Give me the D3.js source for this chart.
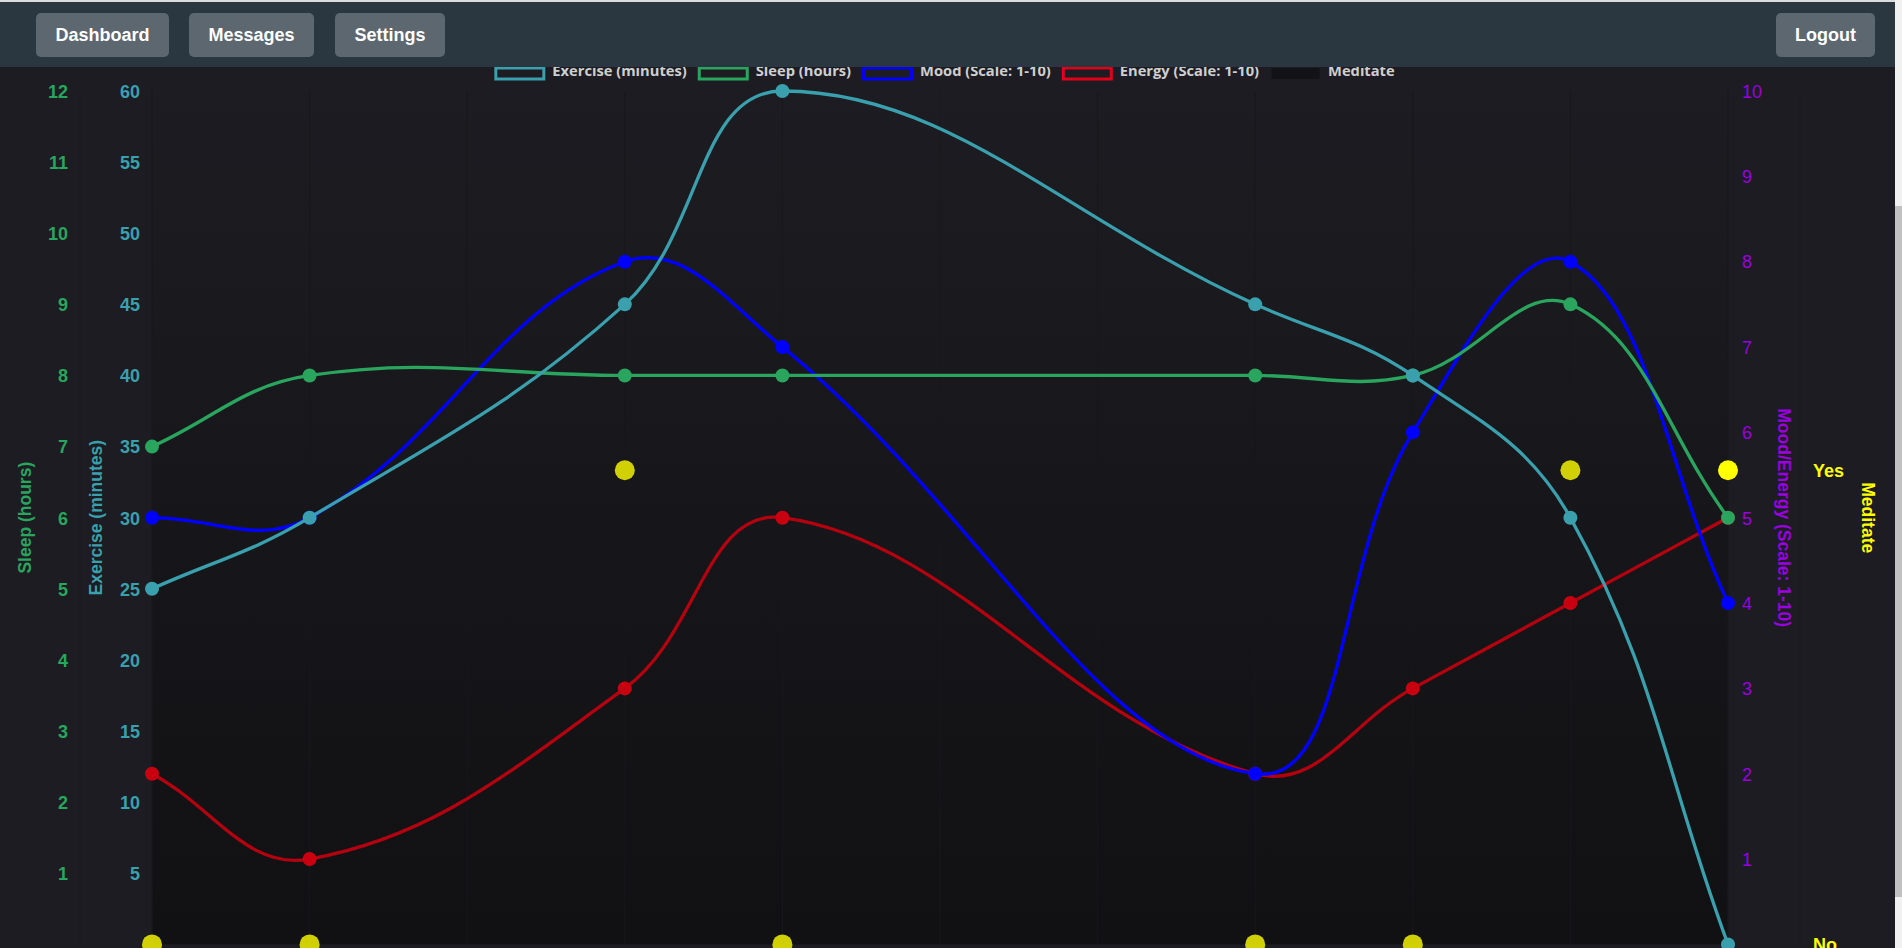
<!DOCTYPE html>
<html><head><meta charset="utf-8">
<script src="https://cdn.jsdelivr.net/npm/d3@7"></script>
<style>
html,body{margin:0;padding:0;overflow:hidden;background:#1c1c22;width:1902px;height:948px;}
svg{position:absolute;left:0;top:0;}
#topline{position:absolute;left:0;top:0;width:1902px;height:2px;background:#dcdcdc;}
#nav{position:absolute;left:0;top:2px;width:1895px;height:65px;background:#2b3740;}
.btn{position:absolute;top:11px;height:44px;background:#5c6770;border-radius:5px;color:#fff;
  font:bold 18px "Liberation Sans",Arial,sans-serif;display:flex;align-items:center;justify-content:center;}
#sbtrack{position:absolute;left:1895px;top:0;width:7px;height:948px;background:#f1f1f1;}
#sbthumb{position:absolute;left:1895px;top:206px;width:7px;height:691px;background:#c1c1c1;}
</style></head><body>
<svg id="chart" width="1895" height="948"></svg>
<div id="topline"></div>
<div id="nav">
  <div class="btn" style="left:36px;width:133px;">Dashboard</div>
  <div class="btn" style="left:189px;width:125px;">Messages</div>
  <div class="btn" style="left:335px;width:110px;">Settings</div>
  <div class="btn" style="left:1776px;width:99px;">Logout</div>
</div>
<div id="sbtrack"></div><div id="sbthumb"></div>
<script>
// ---------- data ----------
const dates    = ["2024-05-01","2024-05-02","2024-05-04","2024-05-05","2024-05-08","2024-05-09","2024-05-10","2024-05-11"];
const exercise = [25, 30, 45, 60, 45, 40, 30, 0];
const sleep    = [7, 8, 8, 8, 8, 8, 9, 6];
const mood     = [5, 5, 8, 7, 2, 6, 8, 4];
const energy   = [2, 1, 3, 5, 2, 3, 4, 5];
const meditate = [0, 0, 1, 0, 0, 0, 1, 1];
const sleepTicks    = [1,2,3,4,5,6,7,8,9,10,11,12];
const exerciseTicks = [5,10,15,20,25,30,35,40,45,50,55,60];
const moodTicks     = [1,2,3,4,5,6,7,8,9,10];
const meditateTickValues = [0, 1];
const meditateTickLabels = ["No", "Yes"];
const legendLabels = ["Exercise (minutes)","Sleep (hours)","Mood (Scale: 1-10)","Energy (Scale: 1-10)","Meditate"];
const axisTitles = {sleep:"Sleep (hours)", exercise:"Exercise (minutes)", mood:"Mood/Energy (Scale: 1-10)", meditate:"Meditate"};

// ---------- style ----------
const C = {teal:"#3aa0ad", green:"#2aa55e", blue:"#0000ff", red:"#b5000f", redPt:"#c8000f", redBox:"#e0001a",
           purple:"#9a00e0", yellow:"#ffff00", grid:"#18181c", legendText:"#cfcfcf"};
const area = {left:152, right:1728, top:91, bottom:944.4};
const parse = d3.timeParse("%Y-%m-%d");
const xDates = dates.map(parse);

const svg = d3.select("#chart");
const defs = svg.append("defs");
const grad = defs.append("linearGradient").attr("id","areaGrad").attr("x1",0).attr("x2",0).attr("y1",0).attr("y2",1);
grad.append("stop").attr("offset","0%").attr("stop-color","#1c1c22");
grad.append("stop").attr("offset","100%").attr("stop-color","#111113");
defs.append("clipPath").attr("id","clipArea").append("rect")
  .attr("x",area.left-12).attr("y",area.top-12).attr("width",area.right-area.left+24).attr("height",area.bottom-area.top+24);

// ---------- scales ----------
const x = d3.scaleTime().domain(d3.extent(xDates)).range([area.left, area.right]);
const ySleep = d3.scaleLinear().domain([0,12]).range([area.bottom, area.top]);
const yEx = d3.scaleLinear().domain([0,60]).range([area.bottom, area.top]);
const yMood = d3.scaleLinear().domain([0,10]).range([area.bottom, area.top]);
const yMed = d3.scaleLinear().domain([0,1.8]).range([area.bottom, area.top]);

// chart area background
svg.append("rect").attr("x",area.left).attr("y",area.top).attr("width",area.right-area.left)
  .attr("height",area.bottom-area.top).attr("fill","url(#areaGrad)");

// vertical grid (daily)
const days = d3.timeDay.range(xDates[0], d3.timeDay.offset(xDates[xDates.length-1],1));
svg.append("g").selectAll("line").data(days).join("line")
  .attr("x1",d=>x(d)).attr("x2",d=>x(d)).attr("y1",area.top).attr("y2",area.bottom)
  .attr("stroke",C.grid).attr("stroke-width",1);
// axis border lines
const borders = [80, area.left, area.right, 1800];
svg.append("g").selectAll("line").data(borders).join("line")
  .attr("x1",d=>d).attr("x2",d=>d).attr("y1",area.top).attr("y2",area.bottom)
  .attr("stroke",C.grid).attr("stroke-width",1);

// ---------- axes ----------
function styleAxis(g, color, weight, anchor){
  g.select(".domain").remove();
  g.selectAll(".tick line").remove();
  g.selectAll("text").attr("fill",color).attr("font-family","'Liberation Sans',Arial,sans-serif")
    .attr("font-size",18).attr("font-weight",weight).attr("text-anchor",anchor).attr("dy","0.35em");
}
svg.append("g").attr("transform","translate(80,0)")
  .call(d3.axisLeft(ySleep).tickValues(sleepTicks).tickSize(0).tickPadding(12))
  .call(g=>styleAxis(g,C.green,"bold","end"));
svg.append("g").attr("transform",`translate(${area.left},0)`)
  .call(d3.axisLeft(yEx).tickValues(exerciseTicks).tickSize(0).tickPadding(12))
  .call(g=>styleAxis(g,C.teal,"bold","end"));
svg.append("g").attr("transform",`translate(${area.right},0)`)
  .call(d3.axisRight(yMood).tickValues(moodTicks).tickSize(0).tickPadding(14))
  .call(g=>styleAxis(g,C.purple,"normal","start"));
svg.append("g").attr("transform","translate(1800,0)")
  .call(d3.axisRight(yMed).tickValues(meditateTickValues).tickFormat((d,i)=>meditateTickLabels[i]).tickSize(0).tickPadding(13))
  .call(g=>styleAxis(g,C.yellow,"bold","start"));

// axis titles
const midY = (area.top+area.bottom)/2;
function title(txt, cx, rot, color){
  svg.append("text").text(txt).attr("transform",`translate(${cx},${midY}) rotate(${rot})`)
    .attr("text-anchor","middle").attr("dy","0.35em").attr("fill",color)
    .attr("font-family","'Liberation Sans',Arial,sans-serif").attr("font-size",17.5).attr("font-weight","bold");
}
title(axisTitles.sleep, 24.5, -90, C.green);
title(axisTitles.exercise, 95.5, -90, C.teal);
title(axisTitles.mood, 1784, 90, C.purple);
title(axisTitles.meditate, 1868, 90, C.yellow);

// ---------- Chart.js style spline ----------
function splinePath(pts, t){
  const n = pts.length;
  const cap = (v,a,b)=>Math.max(Math.min(v,b),a);
  const cps = pts.map((p,i)=>{
    const prev = i>0 ? pts[i-1] : p, next = i<n-1 ? pts[i+1] : p;
    const d01 = Math.hypot(p[0]-prev[0], p[1]-prev[1]);
    const d12 = Math.hypot(next[0]-p[0], next[1]-p[1]);
    let s01 = d01/(d01+d12), s12 = d12/(d01+d12);
    if (isNaN(s01)) s01 = 0; if (isNaN(s12)) s12 = 0;
    const fa = t*s01, fb = t*s12;
    return {
      c1:[cap(p[0]-fa*(next[0]-prev[0]),area.left,area.right), cap(p[1]-fa*(next[1]-prev[1]),area.top,area.bottom)],
      c2:[cap(p[0]+fb*(next[0]-prev[0]),area.left,area.right), cap(p[1]+fb*(next[1]-prev[1]),area.top,area.bottom)]
    };
  });
  const path = d3.path();
  path.moveTo(pts[0][0], pts[0][1]);
  for (let i=1;i<n;i++){
    path.bezierCurveTo(cps[i-1].c2[0],cps[i-1].c2[1],cps[i].c1[0],cps[i].c1[1],pts[i][0],pts[i][1]);
  }
  return path.toString();
}

const plot = svg.append("g").attr("clip-path","url(#clipArea)");
// meditate points (drawn first, below)
plot.append("g").selectAll("circle").data(meditate).join("circle")
  .attr("cx",(d,i)=>x(xDates[i])).attr("cy",d=>yMed(d)).attr("r",10)
  .attr("fill",(d,i)=> i===meditate.length-1 ? C.yellow : "rgba(255,255,0,0.8)");

const series = [
  {vals:energy, y:yMood, color:C.red, pt:C.redPt},
  {vals:mood, y:yMood, color:C.blue, pt:C.blue},
  {vals:sleep, y:ySleep, color:C.green, pt:C.green},
  {vals:exercise, y:yEx, color:C.teal, pt:C.teal}
];
series.forEach(s=>{
  const pts = s.vals.map((v,i)=>[x(xDates[i]), s.y(v)]);
  plot.append("path").attr("d",splinePath(pts,0.4)).attr("fill","none")
    .attr("stroke",s.color).attr("stroke-width",3.3);
  plot.append("g").selectAll("circle").data(pts).join("circle")
    .attr("cx",d=>d[0]).attr("cy",d=>d[1]).attr("r",7).attr("fill",s.pt);
});

// ---------- legend ----------
const legendColors = [C.teal, C.green, C.blue, C.redBox, null];
const fs = 14.7, boxW = 51, boxH = 14, gapText = 7, itemGap = 11;
const lg = svg.append("g");
const items = legendLabels.map((l,i)=>{
  const t = lg.append("text").text(l).attr("font-family","'Open Sans',sans-serif")
    .attr("font-size",fs).attr("font-weight",700).attr("fill",C.legendText).attr("dy","0.35em");
  return {t, w:t.node().getComputedTextLength(), color:legendColors[i]};
});
const total = d3.sum(items, d=>boxW+gapText+d.w) + itemGap*(items.length-1);
let cx = 944.5 - total/2;
const ly = 73.5;
items.forEach(it=>{
  lg.append("rect").attr("x",cx+1.5).attr("y",ly-boxH/2+1.5).attr("width",boxW-3).attr("height",boxH-3)
    .attr("fill", it.color ? "#1c1c22" : "#131317")
    .attr("stroke", it.color || "none").attr("stroke-width",3);
  it.t.attr("x",cx+boxW+gapText).attr("y",ly-2.5);
  cx += boxW+gapText+it.w+itemGap;
});
</script>
</body></html>
